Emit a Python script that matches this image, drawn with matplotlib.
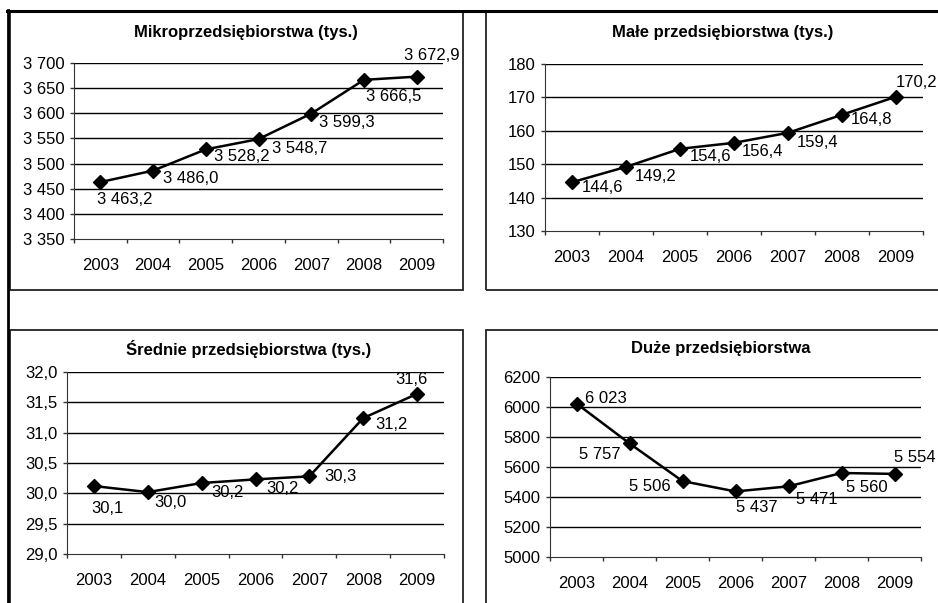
import numpy as np
import matplotlib.pyplot as plt
from matplotlib.patches import Rectangle
from matplotlib.lines import Line2D


years = ['2003', '2004', '2005', '2006', '2007', '2008', '2009']

micro = [3463.2, 3486.0, 3528.2, 3548.7, 3599.3, 3666.5, 3672.9]
small = [144.6, 149.2, 154.6, 156.4, 159.4, 164.8, 170.2]
medium = [30.12, 30.02, 30.17, 30.23, 30.28, 31.24, 31.64]
large = [6023, 5757, 5506, 5437, 5471, 5560, 5554]

titles = ['Mikroprzedsiębiorstwa (tys.)', 'Małe przedsiębiorstwa (tys.)',
          'Średnie przedsiębiorstwa (tys.)', 'Duże przedsiębiorstwa']


def pl_num(v, dec, sep=' '):
    s = f"{v:,.{dec}f}"
    return s.replace(',', 'X').replace('.', ',').replace('X', sep)


plt.rcParams['font.family'] = ['Liberation Sans', 'DejaVu Sans']

W, H = 938, 603
fig = plt.figure(figsize=(W / 100, H / 100), dpi=100)


def fx(x):
    return x / W


def fy(y):
    return 1 - y / H


# panel frames (pixel boxes)
frames = [(10, 11, 463, 290), (486, 11, 960, 290),
          (10, 330, 463, 640), (486, 330, 960, 640)]
for x0, y0, x1, y1 in frames:
    fig.add_artist(Rectangle((fx(x0), fy(y1)), fx(x1 - x0), (y1 - y0) / H,
                             transform=fig.transFigure, fill=False,
                             edgecolor='#222222', linewidth=1.3, clip_on=False))
fig.add_artist(Line2D([fx(7), 1], [fy(10.5), fy(10.5)], transform=fig.transFigure,
                      color='black', linewidth=2.2))
fig.add_artist(Line2D([fx(7.5), fx(7.5)], [fy(10), 0], transform=fig.transFigure,
                      color='black', linewidth=2.0))

# axes boxes: left, right, top, bottom in pixels
boxes = [(74, 443, 63, 239), (545, 923, 64, 231),
         (67, 444, 372, 554), (550, 921, 377, 557)]
ylims = [(3350, 3700), (130, 180), (29.0, 32.0), (5000, 6200)]
ysteps = [50, 10, 0.5, 200]
title_pos = [(246, 32), (723, 32), (249, 349), (721, 348)]
series = [micro, small, medium, large]

tick_fmt = [lambda v: pl_num(v, 0), lambda v: pl_num(v, 0),
            lambda v: pl_num(v, 1), lambda v: f"{v:.0f}"]
lab_fmt = [lambda v: pl_num(v, 1), lambda v: pl_num(v, 1),
           lambda v: pl_num(v, 1), lambda v: pl_num(v, 0)]

# label offsets in pixels (dx, dy) and horizontal alignment
offsets = [
    [(-3, -17, 'left'), (10, -8, 'left'), (8, -7, 'left'), (14, -9, 'left'),
     (8, -9, 'left'), (2, -17, 'left'), (-13, 21, 'left')],
    [(10, -5, 'left'), (9, -10, 'left'), (10, -8, 'left'), (8, -9, 'left'),
     (9, -10, 'left'), (9, -5, 'left'), (0, 14, 'left')],
    [(-3, -22, 'left'), (7, -10, 'left'), (10, -9, 'left'), (11, -9, 'left'),
     (15, 0, 'left'), (12, -6, 'left'), (-6, 14, 'center')],
    [(8, 5, 'left'), (-9, -11, 'right'), (-12, -5, 'right'), (0, -16, 'left'),
     (8, -13, 'left'), (4, -15, 'left'), (0, 16, 'left')],
]

x = np.arange(len(years))
for i in range(4):
    l, r, t, b = boxes[i]
    ax = fig.add_axes([fx(l), fy(b), fx(r - l), (b - t) / H])
    lo, hi = ylims[i]
    ax.set_xlim(-0.5, len(years) - 0.5)
    ax.set_ylim(lo, hi)
    yt = np.arange(lo, hi + ysteps[i] / 2, ysteps[i])
    ax.set_yticks(yt)
    ax.set_yticklabels([tick_fmt[i](v) for v in yt])
    for v in yt[1:]:
        ax.axhline(v, color='black', linewidth=1.0, zorder=1)
    ax.set_xticks(np.arange(-0.5, len(years), 1.0))
    ax.set_xticklabels([])
    ax.set_xticks(x, minor=True)
    ax.set_xticklabels(years, minor=True)
    ax.tick_params(axis='x', which='major', direction='out', length=3,
                   width=1, color='#333333')
    ax.tick_params(axis='x', which='minor', length=0, pad=14, labelsize=12)
    ax.tick_params(axis='y', direction='out', length=3, width=1,
                   color='#333333', pad=4, labelsize=12)
    for s in ['top', 'right']:
        ax.spines[s].set_visible(False)
    ax.spines['left'].set_color('#333333')
    ax.spines['bottom'].set_color('#333333')
    ax.patch.set_alpha(0)

    ys = series[i]
    ax.plot(x, ys, color='black', linewidth=1.8, marker='D', markersize=7,
            zorder=3, clip_on=False)
    for xi, yi, (dx, dy, ha) in zip(x, ys, offsets[i]):
        ax.annotate(lab_fmt[i](yi), (xi, yi), xytext=(dx, dy),
                    textcoords='offset pixels', ha=ha, va='center',
                    fontsize=12, color='black', zorder=4)

    tx, ty = title_pos[i]
    fig.text(fx(tx), fy(ty), titles[i], ha='center', va='center',
             fontsize=12, fontweight='bold')

fig.savefig('out.png', dpi=100)
